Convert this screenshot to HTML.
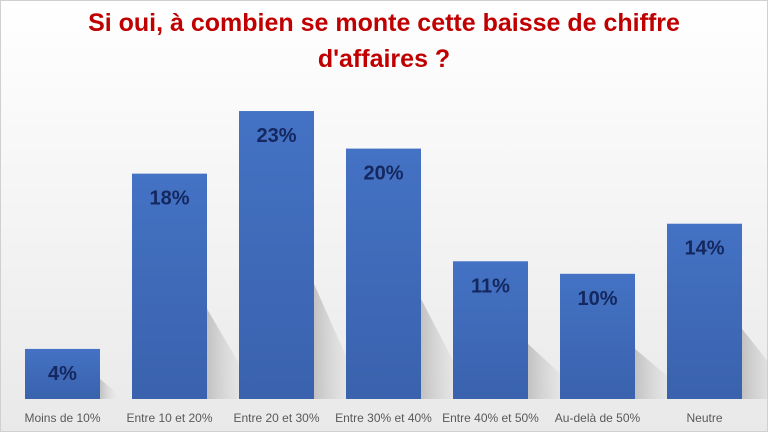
<!DOCTYPE html>
<html><head><meta charset="utf-8"><style>
body{margin:0;width:768px;height:432px;overflow:hidden;font-family:"Liberation Sans",sans-serif}
</style></head><body>
<svg width="768" height="432" xmlns="http://www.w3.org/2000/svg">
<defs>
<linearGradient id="bg" x1="0" y1="0" x2="0" y2="1"><stop offset="0" stop-color="#ffffff"/><stop offset="1" stop-color="#e9e9e9"/></linearGradient>
<linearGradient id="bar" x1="0" y1="0" x2="0" y2="1"><stop offset="0" stop-color="#4472c4"/><stop offset="1" stop-color="#3a62ad"/></linearGradient>
<linearGradient id="sh" x1="0" y1="0" x2="1" y2="0"><stop offset="0" stop-color="#bdbdbd" stop-opacity="0.9"/><stop offset="1" stop-color="#d8d8d8" stop-opacity="0"/></linearGradient>
</defs>
<rect x="0.5" y="0.5" width="767" height="431" fill="url(#bg)" stroke="#d0d0d0"/>
<text x="384" y="31" text-anchor="middle" font-size="25" font-weight="bold" fill="#c00000">Si oui, à combien se monte cette baisse de chiffre</text>
<text x="384" y="67" text-anchor="middle" font-size="25" font-weight="bold" fill="#c00000">d'affaires ?</text>
<g id="marks"></g>
</svg>
<script>
const categories=["Moins de 10%","Entre 10 et 20%","Entre 20 et 30%","Entre 30% et 40%","Entre 40% et 50%","Au-delà de 50%","Neutre"];
const values=[4,18,23,20,11,10,14];
const valueLabels=["4%","18%","23%","20%","11%","10%","14%"];
const ns="http://www.w3.org/2000/svg";
const g=document.getElementById('marks');
const base=399, pxPer=12.52, step=107, x0=25, bw=75;
const xPos=i=>x0+i*step;
const yPos=v=>base-v*pxPer;
function mk(t,a){const e=document.createElementNS(ns,t);for(const k in a)e.setAttribute(k,a[k]);g.appendChild(e);return e;}
categories.forEach((c,i)=>{
  const x=xPos(i),y=yPos(values[i]),h=base-y;
  const s=mk('polygon',{points:`${x+bw},${base} ${x+bw},${y+h*0.6} ${x+bw+Math.min(h*0.35,45)},${base-Math.min(h*0.35,45)*0.3} ${x+bw+Math.min(h*0.35,45)},${base}`,fill:'url(#sh)'});
  
  
  const r=mk('rect',{x:x,y:y,width:bw,height:h,fill:'url(#bar)'});
  
  
  const t=mk('text',{x:x+bw/2,y:y+31,'text-anchor':'middle','font-size':'20','font-weight':'bold',fill:'#14275e'});
  t.textContent=valueLabels[i];
  
  
  const l=mk('text',{x:x+bw/2,y:422,'text-anchor':'middle','font-size':'12',fill:'#595959'});
  l.textContent=c;
  
  
});
</script>
</body></html>
